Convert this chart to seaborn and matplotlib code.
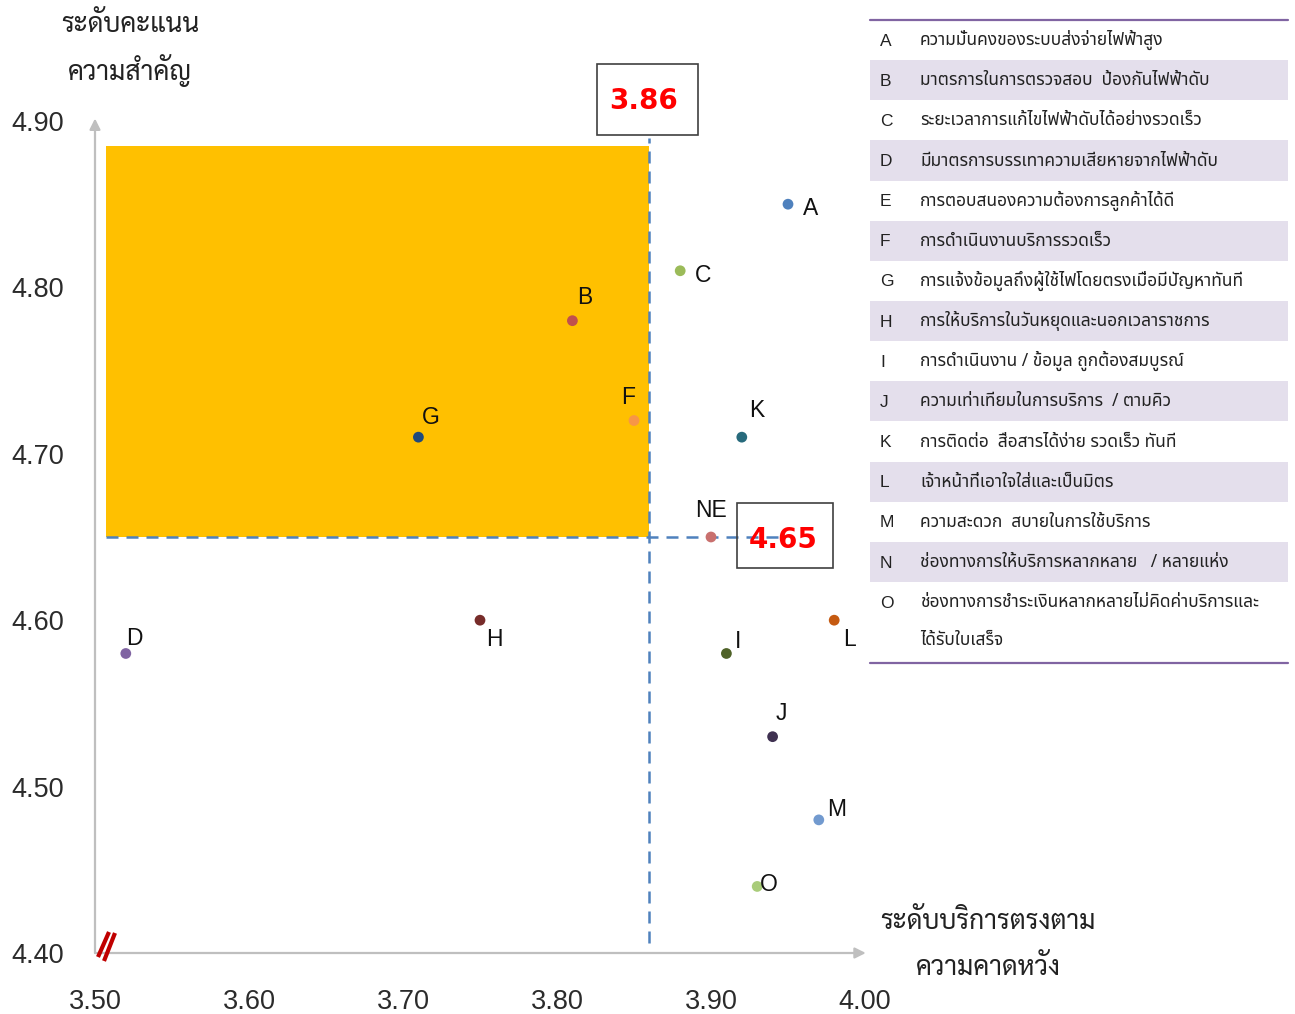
import matplotlib
matplotlib.use("Agg")
import matplotlib.pyplot as plt
import matplotlib.patches as mpatches
from matplotlib.lines import Line2D
import numpy as np
import pandas as pd
import seaborn as sns

# ---- data -------------------------------------------------------------
point_labels = ["A", "B", "C", "D", "F", "G", "H", "I", "J", "K", "L", "M", "NE", "O"]
service_level = [3.95, 3.81, 3.88, 3.52, 3.85, 3.71, 3.75, 3.91, 3.94, 3.92, 3.98, 3.97, 3.90, 3.93]
importance = [4.85, 4.78, 4.81, 4.58, 4.72, 4.71, 4.60, 4.58, 4.53, 4.71, 4.60, 4.48, 4.65, 4.44]

x_cut = 3.86
y_cut = 4.65

x_ticks = [3.50, 3.60, 3.70, 3.80, 3.90, 4.00]
y_ticks = [4.40, 4.50, 4.60, 4.70, 4.80, 4.90]

y_title = "ระดับคะแนน\nความสำคัญ"
x_title = "ระดับบริการตรงตาม\nความคาดหวัง"

key_letters = ["A", "B", "C", "D", "E", "F", "G", "H", "I", "J", "K", "L", "M", "N", "O"]
key_texts = [
    "ความมั่นคงของระบบส่งจ่ายไฟฟ้าสูง",
    "มาตรการในการตรวจสอบ  ป้องกันไฟฟ้าดับ",
    "ระยะเวลาการแก้ไขไฟฟ้าดับได้อย่างรวดเร็ว",
    "มีมาตรการบรรเทาความเสียหายจากไฟฟ้าดับ",
    "การตอบสนองความต้องการลูกค้าได้ดี",
    "การดำเนินงานบริการรวดเร็ว",
    "การแจ้งข้อมูลถึงผู้ใช้ไฟโดยตรงเมื่อมีปัญหาทันที",
    "การให้บริการในวันหยุดและนอกเวลาราชการ",
    "การดำเนินงาน / ข้อมูล ถูกต้องสมบูรณ์",
    "ความเท่าเทียมในการบริการ  / ตามคิว",
    "การติดต่อ  สื่อสารได้ง่าย รวดเร็ว ทันที",
    "เจ้าหน้าที่เอาใจใส่และเป็นมิตร",
    "ความสะดวก  สบายในการใช้บริการ",
    "ช่องทางการให้บริการหลากหลาย   / หลายแห่ง",
    "ช่องทางการชำระเงินหลากหลายไม่คิดค่าบริการและ\nได้รับใบเสร็จ",
]

# ---- styling ----------------------------------------------------------
point_colors = ["#4F81BD", "#C0504D", "#9BBB59", "#8064A2", "#F79646", "#1F497D",
                "#772C2A", "#4F6228", "#3F3151", "#276A7C", "#C55A11", "#729ACF",
                "#C9706E", "#A9CC7A"]
# label offsets (points) relative to each marker
label_offsets = {"A": (16, -1), "B": (9, 19), "C": (16.5, -1.5), "D": (6.5, 13),
                 "F": (-4.3, 19), "G": (8.6, 16), "H": (10, -12), "I": (8.6, 11),
                 "J": (6.5, 19), "K": (10.8, 21.5), "L": (10.8, -12), "M": (13, 10),
                 "NE": (0, 21), "O": (8.6, 3.6)}

sns.set_theme(style="white")
thai_title = ["Sarabun", "IBM Plex Sans Thai Looped", "Noto Sans Thai", "DejaVu Sans"]
thai_body = ["Noto Sans Thai", "Anuphan", "IBM Plex Sans Thai", "DejaVu Sans"]
plt.rcParams["font.family"] = ["Liberation Sans", "DejaVu Sans"]

W, H = 1295, 1014
fig = plt.figure(figsize=(W / 100, H / 100), dpi=100)


def fx(px):
    return px / W


def fy(py):
    return 1 - py / H


ax = fig.add_axes([fx(95), fy(953), fx(865) - fx(95), fy(121) - fy(953)])
ax.set_xlim(3.50, 4.00)
ax.set_ylim(4.40, 4.90)

df = pd.DataFrame({"x": service_level, "y": importance, "label": point_labels})

# upper-left quadrant highlight
rect_left, rect_top = 3.507, 4.885
ax.add_patch(mpatches.Rectangle((rect_left, y_cut), x_cut - rect_left, rect_top - y_cut,
                                facecolor="#FFC000", edgecolor="none", zorder=1))

# cut lines
dash = (0, (4.8, 3.2))
ax.plot([x_cut, x_cut], [4.406, 4.89], color="#4F81BD", lw=1.8, ls=dash, zorder=2,
        clip_on=False)
ax.plot([rect_left, 3.946], [y_cut, y_cut], color="#4F81BD", lw=1.8, ls=dash, zorder=2)

sns.scatterplot(data=df, x="x", y="y", hue="label", palette=point_colors, s=60,
                edgecolor="none", legend=False, ax=ax, zorder=3)

for lab, xv, yv in zip(point_labels, service_level, importance):
    dx, dy = label_offsets[lab]
    ax.annotate(lab, (xv, yv), xytext=(dx, dy - 2.2), textcoords="offset points",
                ha="center", va="center", fontsize=16.5, color="#111111", zorder=4)

# axes as grey arrows
for s in ax.spines.values():
    s.set_visible(False)
arrow = dict(arrowstyle="-|>", color="#BFBFBF", lw=1.6, mutation_scale=16,
             shrinkA=0, shrinkB=0)
ax.annotate("", xy=(0, 1.003), xytext=(0, 0), xycoords="axes fraction", arrowprops=arrow)
ax.annotate("", xy=(1.001, 0), xytext=(0, 0), xycoords="axes fraction", arrowprops=arrow)

ax.set_xticks(x_ticks)
ax.set_yticks(y_ticks)
ax.set_xticklabels([f"{v:.2f}" for v in x_ticks])
ax.set_yticklabels([f"{v:.2f}" for v in y_ticks])
ax.tick_params(axis="both", length=0, labelsize=19.5, labelcolor="#2B2B2B")
ax.tick_params(axis="x", pad=26)
ax.tick_params(axis="y", pad=22)
ax.set_xlabel("")
ax.set_ylabel("")

# axis break mark at the origin
for (x0, y0, x1, y1) in [(98, 957, 109, 932), (104, 961, 115, 933)]:
    fig.add_artist(Line2D([fx(x0), fx(x1)], [fy(y0), fy(y1)], color="#C00000", lw=3,
                          solid_capstyle="butt"))

# axis titles
for i, line in enumerate(y_title.split("\n")):
    fig.text(fx(130), fy(25 + 46 * i), line, ha="center", va="center", fontsize=19,
             family=thai_title, color="#222222")
for i, line in enumerate(x_title.split("\n")):
    fig.text(fx(988), fy(922 + 46 * i), line, ha="center", va="center", fontsize=19,
             family=thai_title, color="#222222")

# value boxes for the cut lines
fig.add_artist(mpatches.Rectangle((fx(597), fy(135)), fx(698) - fx(597), fy(64) - fy(135),
                                  transform=fig.transFigure, facecolor="none",
                                  edgecolor="#404040", lw=1.2))
fig.text(fx(644), fy(101), f"{x_cut:.2f}", ha="center", va="center", fontsize=20,
         fontweight="bold", color="#FF0000", family="DejaVu Sans")
fig.add_artist(mpatches.Rectangle((fx(737), fy(568)), fx(833) - fx(737), fy(503) - fy(568),
                                  transform=fig.transFigure, facecolor="none",
                                  edgecolor="#404040", lw=1.2))
fig.text(fx(783), fy(540), f"{y_cut:.2f}", ha="center", va="center", fontsize=20,
         fontweight="bold", color="#FF0000", family="DejaVu Sans")

# key table
lax = fig.add_axes([fx(870), fy(663), fx(1288) - fx(870), fy(20) - fy(663)])
lax.set_xlim(0, 418)
lax.set_ylim(643, 0)
lax.axis("off")
row_h = 40.15
y0 = 0.0
for i, (letter, text) in enumerate(zip(key_letters, key_texts)):
    lines = text.split("\n")
    h = row_h * len(lines)
    if i % 2 == 1:
        lax.add_patch(mpatches.Rectangle((0, y0), 418, row_h * len(lines),
                                         facecolor="#E4DFEC", edgecolor="none"))
    lax.text(10, y0 + row_h / 2 + 1, letter, ha="left", va="center", fontsize=12.5,
             color="#222222")
    for j, line in enumerate(lines):
        lax.text(50, y0 + row_h / 2 + j * 38, line, ha="left", va="center", fontsize=12.5,
                 family=thai_body, color="#222222")
    y0 += h
lax.plot([0, 418], [0, 0], color="#8064A2", lw=1.6, clip_on=False)
lax.plot([0, 418], [643, 643], color="#8064A2", lw=1.6, clip_on=False)

fig.savefig("out.png", dpi=100)
